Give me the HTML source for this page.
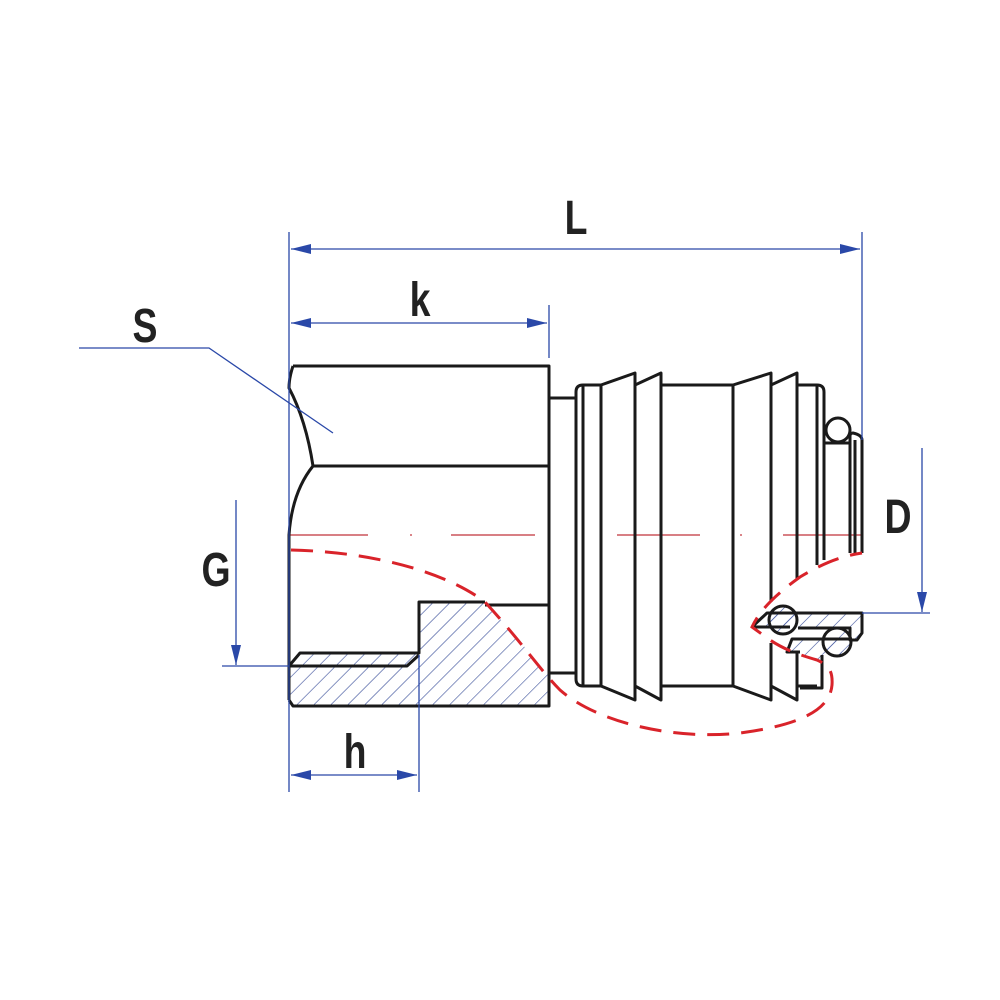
<!DOCTYPE html>
<html><head><meta charset="utf-8"><style>
html,body{margin:0;padding:0;background:#fff}
svg{display:block}
text{font-family:"Liberation Sans Narrow","Liberation Sans",sans-serif;font-weight:bold;fill:#222}
</style></head><body>
<svg width="1000" height="1000" viewBox="0 0 1000 1000" xmlns="http://www.w3.org/2000/svg">
<defs>
<pattern id="h" patternUnits="userSpaceOnUse" width="12" height="12" patternTransform="rotate(45)">
<line x1="0" y1="0" x2="0" y2="12" stroke="#3a4f9a" stroke-width="1.2"/>
</pattern>
<marker id="a" viewBox="0 0 20 10" refX="20" refY="5" markerWidth="20" markerHeight="10" markerUnits="userSpaceOnUse" orient="auto-start-reverse">
<path d="M0,0 L20,5 L0,10 Z" fill="#2a48a8"/>
</marker>
</defs>

<g stroke="#c0333a" stroke-width="1.2">
<line x1="289" y1="535" x2="368" y2="535"/><line x1="410" y1="535" x2="412" y2="535"/>
<line x1="451" y1="535" x2="535" y2="535"/><line x1="617" y1="535" x2="700" y2="535"/>
<line x1="740" y1="535" x2="742" y2="535"/><line x1="783" y1="535" x2="862" y2="535"/>
</g>

<g fill="url(#h)" stroke="none">
<path d="M289,666 L407,666 L419,655 L419,602 L485,602 Q515,635 549,676 L549,706 L293,706 L289,700 Z"/>
<path d="M289,666 L300,653 L419,653 L407,666 Z"/>
<path d="M752,627 L767,613 L862,613 L862,633 L857,640 L850,640 L850,628 L798,628 L790,627 Z"/>
<path d="M792,639 L850,639 L840,655 L822,662 L800,655 L787,652 Z"/>
<circle cx="783" cy="620" r="14"/><circle cx="837" cy="642" r="14"/>
</g>

<g fill="none" stroke="#1a1a1a" stroke-width="3" stroke-linejoin="round">
<path d="M293,366 L549,366 L549,706 L293,706 L289,700"/>
<path d="M293,366 Q289,378 289,388 Q306,420 313,466 L549,466"/>
<path d="M313,466 Q292,492 289,535 L289,545"/>
<line x1="289" y1="545" x2="289" y2="700"/>
<path d="M485,602 L419,602 L419,653 L300,653 L289,666 L407,666 L419,655"/>
<line x1="485" y1="605" x2="549" y2="605"/>
<line x1="549" y1="398" x2="576" y2="398"/><line x1="549" y1="673" x2="576" y2="673"/>
<path d="M583,385 L601,385 M601,686 L583,686"/>
<path d="M583,385 Q576,385 576,392 L576,679 Q576,686 583,686 Z"/>
<line x1="601" y1="385" x2="601" y2="686"/>
<path d="M601,385 L635,373 L635,700 L601,686"/>
<path d="M635,385 L661,373 L661,700 L635,686"/>
<line x1="661" y1="385" x2="733" y2="385"/><line x1="661" y1="686" x2="733" y2="686"/>
<line x1="733" y1="385" x2="733" y2="686"/>
<path d="M733,385 L771,373 L771,602"/><path d="M771,643 L771,700 L733,686"/>
<path d="M771,385 L797,373 L797,580"/><path d="M797,653 L797,700 L771,686"/>
<path d="M797,385 L817,385 Q824,385 824,392 L824,560"/>
<path d="M822,655 L822,688 L800,688"/>
<line x1="817" y1="385" x2="817" y2="565"/>
<path d="M797,686 L817,686"/>
<circle cx="838" cy="430" r="12"/>
<line x1="825" y1="443" x2="850" y2="443"/>
<path d="M850,553 L850,436 Q850,433 853,433 Q862,435 862,440 L862,553"/>
<line x1="855" y1="440" x2="855" y2="553"/>
<path d="M752,627 L767,613 L862,613 L862,633 L857,640 L850,640 L850,628 L798,628"/>
<line x1="752" y1="627" x2="790" y2="627"/>
<path d="M850,639 L792,639 L787,652 L800,652"/>
<circle cx="783" cy="620" r="14"/><circle cx="837" cy="642" r="14"/>
</g>

<g fill="none" stroke="#d9232a" stroke-width="3" stroke-dasharray="22,12">
<path d="M291,550 C380,552 450,575 485,602 C520,640 540,670 560,690 C600,725 680,740 740,733 C800,725 830,710 832,685 C833,670 828,665 817,660 C800,655 785,650 770,640 L752,627 C760,610 775,595 800,577 C820,565 840,556 862,553"/>
</g>

<g stroke="#2a48a8" stroke-width="1.3" fill="none">
<line x1="289" y1="232" x2="289" y2="792"/>
<line x1="862" y1="232" x2="862" y2="440"/>
<line x1="549" y1="305" x2="549" y2="358"/>
<line x1="419" y1="655" x2="419" y2="792"/>
<line x1="291" y1="249" x2="860" y2="249" marker-start="url(#a)" marker-end="url(#a)"/>
<line x1="291" y1="323" x2="547" y2="323" marker-start="url(#a)" marker-end="url(#a)"/>
<line x1="291" y1="775" x2="417" y2="775" marker-start="url(#a)" marker-end="url(#a)"/>
<line x1="236" y1="500" x2="236" y2="665" marker-end="url(#a)"/>
<line x1="222" y1="666" x2="289" y2="666"/>
<line x1="922" y1="448" x2="922" y2="612" marker-end="url(#a)"/>
<line x1="862" y1="613" x2="930" y2="613"/>
<polyline points="79,348 209,348 333,433"/>
</g>

<g font-size="48" text-anchor="middle">
<text transform="translate(576,234) scale(0.78,1)">L</text>
<text transform="translate(420,316) scale(0.78,1)">k</text>
<text transform="translate(145,342) scale(0.78,1)">S</text>
<text transform="translate(216,586) scale(0.78,1)">G</text>
<text transform="translate(355,768) scale(0.78,1)">h</text>
<text transform="translate(898,533) scale(0.78,1)">D</text>
</g>
</svg>
</body></html>
